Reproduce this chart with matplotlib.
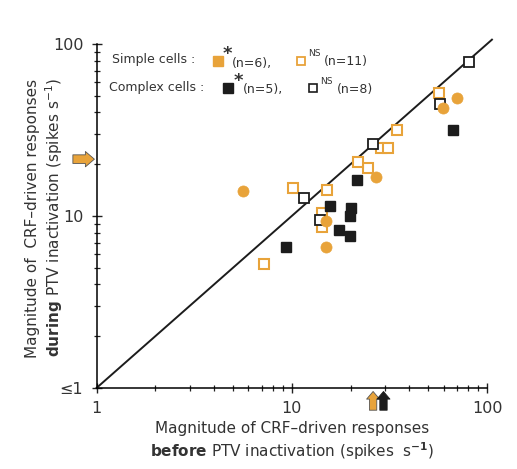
import matplotlib
matplotlib.use("Agg")
import matplotlib.pyplot as plt
from matplotlib.ticker import LogLocator, FixedLocator, NullFormatter

ORANGE = "#E8A33A"
BLACK = "#1c1c1c"

# Simple cells, significant (filled orange)
simple_sig_x = [5.63, 14.98, 14.98, 27.0, 70.2, 59.5]
simple_sig_y = [13.97, 9.35, 6.60, 16.86, 48.5, 42.5]
# Simple cells, NS (open orange)
simple_ns_x = [10.15, 15.15, 14.29, 14.29, 7.21, 24.6, 21.8, 28.6, 31.1, 34.6, 56.8]
simple_ns_y = [14.55, 14.2, 10.4, 8.63, 5.26, 19.0, 20.6, 24.8, 24.8, 31.6, 51.9]
# Complex cells, significant (filled black)
complex_sig_x = [15.7, 20.1, 19.9, 17.46, 19.9, 9.34, 21.6, 66.9]
complex_sig_y = [11.43, 11.13, 10.0, 8.29, 7.65, 6.60, 16.2, 31.6]
# Complex cells, NS (open black)
complex_ns_x = [11.55, 13.95, 26.1, 57.4, 80.9]
complex_ns_y = [12.7, 9.48, 26.2, 44.8, 78.6]

# Mean arrows
mean_during_simple = 21.4
mean_before_simple = 26.1
mean_before_complex = 29.5

xticks = [1, 10, 100]
xticklabels = ["1", "10", "100"]
yticks = [1, 10, 100]
yticklabels = ["\u22641", "10", "100"]

W, H = 517, 469
fig = plt.figure(figsize=(W / 100, H / 100), dpi=100)
ax = fig.add_axes([96.5 / W, 1 - 388 / H, (487 - 96.5) / W, (388 - 44) / H])
ax.set_xscale("log")
ax.set_yscale("log")
ax.set_xlim(1, 100)
ax.set_ylim(1, 100)

# identity line
ax.plot([1, 106], [1, 106], color=BLACK, lw=1.4, clip_on=False, zorder=2)

ms = 7.6
ax.plot(simple_ns_x, simple_ns_y, "s", ms=ms, mfc="white", mec=ORANGE, mew=1.5, ls="none", zorder=3)
ax.plot(complex_ns_x, complex_ns_y, "s", ms=ms, mfc="white", mec=BLACK, mew=1.3, ls="none", zorder=3)
ax.plot(complex_sig_x, complex_sig_y, "s", ms=ms, mfc=BLACK, mec=BLACK, mew=1, ls="none", zorder=4)
ax.plot(simple_sig_x, simple_sig_y, "o", ms=8, mfc=ORANGE, mec=ORANGE, mew=0.5, ls="none", zorder=4)

for s in ["top", "right"]:
    ax.spines[s].set_visible(False)
for s in ["left", "bottom"]:
    ax.spines[s].set_linewidth(1.1)

ax.xaxis.set_major_locator(FixedLocator(xticks))
ax.yaxis.set_major_locator(FixedLocator(yticks))
ax.set_xticklabels(xticklabels)
ax.set_yticklabels(yticklabels)
ax.xaxis.set_minor_locator(LogLocator(base=10, subs=range(2, 10)))
ax.yaxis.set_minor_locator(LogLocator(base=10, subs=range(2, 10)))
ax.xaxis.set_minor_formatter(NullFormatter())
ax.yaxis.set_minor_formatter(NullFormatter())
ax.tick_params(which="major", direction="inout", length=7, width=1, labelsize=11.5, colors="#222222", pad=6)
ax.tick_params(which="minor", direction="inout", length=5, width=0.9, colors="#222222")
for lab in ax.get_xticklabels() + ax.get_yticklabels():
    lab.set_color("#333333")

# axis labels
lfs = 11
fig.text(292 / W, 1 - 428 / H, "Magnitude of CRF\u2013driven responses", ha="center", va="center",
         fontsize=lfs, color="#333333")
fig.text(292 / W, 1 - 451 / H, r"$\mathbf{before}$ PTV inactivation (spikes  s$^{\mathbf{-1}}$)",
         ha="center", va="center", fontsize=lfs, color="#333333")
fig.text(33 / W, 1 - 218 / H, "Magnitude of  CRF\u2013driven responses", ha="center", va="center",
         rotation=90, fontsize=lfs, color="#333333")
fig.text(54 / W, 1 - 218 / H, r"$\mathbf{during}$ PTV inactivation (spikes s$^{-1}$)", ha="center",
         va="center", rotation=90, fontsize=lfs, color="#333333")

# legend as text
tf = fig.transFigure
def fx(px):
    return px / W
def fy(py):
    return 1 - py / H

fs = 9
fig.text(fx(112), fy(60), "Simple cells :", fontsize=fs, va="center", color="#333333")
fig.text(fx(109), fy(87), "Complex cells :", fontsize=fs, va="center", color="#333333")
ax.plot([fx(218)], [fy(61)], "s", ms=6.5, mfc=ORANGE, mec=ORANGE, transform=tf, clip_on=False)
fig.text(fx(223), fy(54), "*", fontsize=13, fontweight="bold", va="center", color="#333333")
fig.text(fx(232), fy(63), "(n=6),", fontsize=fs, va="center", color="#333333")
ax.plot([fx(301)], [fy(61)], "s", ms=6, mfc="white", mec=ORANGE, mew=1.3, transform=tf, clip_on=False)
fig.text(fx(308), fy(54), "NS", fontsize=6.5, va="center", color="#333333")
fig.text(fx(324), fy(62), "(n=11)", fontsize=fs, va="center", color="#333333")
ax.plot([fx(228)], [fy(88)], "s", ms=6.5, mfc=BLACK, mec=BLACK, transform=tf, clip_on=False)
fig.text(fx(234), fy(81), "*", fontsize=13, fontweight="bold", va="center", color="#333333")
fig.text(fx(243), fy(90), "(n=5),", fontsize=fs, va="center", color="#333333")
ax.plot([fx(313)], [fy(88)], "s", ms=6, mfc="white", mec=BLACK, mew=1.2, transform=tf, clip_on=False)
fig.text(fx(320), fy(81), "NS", fontsize=6.5, va="center", color="#333333")
fig.text(fx(337), fy(90), "(n=8)", fontsize=fs, va="center", color="#333333")

# arrows marking means
astyle = "simple,head_length=0.5,head_width=0.85,tail_width=0.48"
ax.annotate("", xy=(1, mean_during_simple), xycoords="data", xytext=(-17, 0), textcoords="offset points",
            arrowprops=dict(arrowstyle=astyle, mutation_scale=13, fc=ORANGE, ec="#555555", lw=0.6,
                            shrinkA=0, shrinkB=1.5), annotation_clip=False)
ax.annotate("", xy=(mean_before_simple, 1), xycoords="data", xytext=(0, -16), textcoords="offset points",
            arrowprops=dict(arrowstyle=astyle, mutation_scale=11, fc=ORANGE, ec="#555555", lw=0.6,
                            shrinkA=0, shrinkB=2.5), annotation_clip=False)
ax.annotate("", xy=(mean_before_complex, 1), xycoords="data", xytext=(0, -16), textcoords="offset points",
            arrowprops=dict(arrowstyle=astyle, mutation_scale=11, fc=BLACK, ec=BLACK, lw=0.6,
                            shrinkA=0, shrinkB=2.5), annotation_clip=False)

fig.savefig("out.png", dpi=100)
